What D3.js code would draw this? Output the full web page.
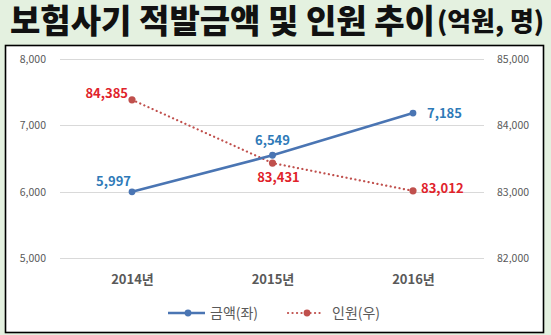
<!DOCTYPE html>
<html><head><meta charset="utf-8">
<script src="https://cdn.jsdelivr.net/npm/d3@7"></script>
<style>
html,body{margin:0;padding:0;background:#e4f1e0;}
svg{display:block;}
</style></head>
<body>
<svg id="c" width="551" height="335"></svg>
<script>
const years = ["2014년", "2015년", "2016년"];
const amount = [5997, 6549, 7185];
const people = [84385, 83431, 83012];
const leftTicks = [5000, 6000, 7000, 8000];
const rightTicks = [82000, 83000, 84000, 85000];
const seriesNames = ["금액(좌)", "인원(우)"];
const titleMain = "보험사기 적발금액 및 인원 추이";
const titleUnit = "(억원, 명)";

const svg = d3.select("#c");
const font = "'Noto Sans CJK KR','Malgun Gothic',sans-serif";

// background
svg.append("rect").attr("width", 551).attr("height", 335).attr("fill", "#e4f1e0");

// title
svg.append("text").attr("x", 10).attr("y", 32.5)
  .attr("font-family", font).attr("font-weight", 900).attr("fill", "#111").attr("font-size", 33)
  .attr("textLength", 425).attr("lengthAdjust", "spacingAndGlyphs").text(titleMain);
svg.append("text").attr("x", 437).attr("y", 31)
  .attr("font-family", font).attr("font-weight", 900).attr("fill", "#111").attr("font-size", 26)
  .attr("textLength", 107).attr("lengthAdjust", "spacingAndGlyphs").text(titleUnit);

// chart box
svg.append("rect").attr("x", 5.5).attr("y", 45.5).attr("width", 538).attr("height", 287)
  .attr("fill", "#fff").attr("stroke", "#000").attr("stroke-width", 1.6);

const x = d3.scalePoint().domain(years).range([132, 413]);
const yL = d3.scaleLinear().domain([5000, 8000]).range([258, 59]);
const yR = d3.scaleLinear().domain([82000, 85000]).range([258, 59]);
const gx0 = 60, gx1 = 484;

// grid
svg.append("g").selectAll("line").data(leftTicks).join("line")
  .attr("x1", gx0).attr("x2", gx1)
  .attr("y1", d => Math.round(yL(d)) + 0.5).attr("y2", d => Math.round(yL(d)) + 0.5)
  .attr("stroke", "#d9d9d9").attr("stroke-width", 1);

// left axis
const axL = d3.axisLeft(yL).tickValues(leftTicks).tickFormat(d3.format(",")).tickSize(0).tickPadding(0);
const gL = svg.append("g").attr("transform", "translate(46,0)").call(axL);
gL.select(".domain").remove();
gL.selectAll("text").attr("font-family", font).attr("font-size", 10.5).attr("fill", "#595959");

// right axis
const axR = d3.axisRight(yR).tickValues(rightTicks).tickFormat(d3.format(",")).tickSize(0).tickPadding(0);
const gR = svg.append("g").attr("transform", "translate(497,0)").call(axR);
gR.select(".domain").remove();
gR.selectAll("text").attr("font-family", font).attr("font-size", 10.5).attr("fill", "#595959");

// x axis labels
const axX = d3.axisBottom(x).tickSize(0).tickPadding(0);
const gX = svg.append("g").attr("transform", "translate(0,275)").call(axX);
gX.select(".domain").remove();
gX.selectAll("text").attr("font-family", font).attr("font-size", 13).attr("font-weight", 700).attr("fill", "#595959");

const blue = "#4a75b3", red = "#c0504d";
const blueTxt = "#2e7ab8", redTxt = "#e0232b";

// red dotted line (people)
const lineR = d3.line().x((d, i) => x(years[i])).y(d => yR(d));
svg.append("path").datum(people).attr("d", lineR).attr("fill", "none")
  .attr("stroke", red).attr("stroke-width", 2.2).attr("stroke-dasharray", "0.1 4.4").attr("stroke-linecap", "round");
svg.append("g").selectAll("circle").data(people).join("circle")
  .attr("cx", (d, i) => x(years[i])).attr("cy", d => yR(d)).attr("r", 3.6).attr("fill", red);

// blue line (amount)
const lineL = d3.line().x((d, i) => x(years[i])).y(d => yL(d));
svg.append("path").datum(amount).attr("d", lineL).attr("fill", "none")
  .attr("stroke", blue).attr("stroke-width", 2.6);
svg.append("g").selectAll("circle").data(amount).join("circle")
  .attr("cx", (d, i) => x(years[i])).attr("cy", d => yL(d)).attr("r", 3.4).attr("fill", blue);

const fmt = d3.format(",");
// labels amount
const labA = [{dx: -1, dy: -6, anchor: "end"}, {dx: 0, dy: -10.5, anchor: "middle"}, {dx: 14, dy: 5, anchor: "start"}];
svg.append("g").selectAll("text").data(amount).join("text")
  .attr("x", (d, i) => x(years[i]) + labA[i].dx).attr("y", (d, i) => yL(d) + labA[i].dy)
  .attr("text-anchor", (d, i) => labA[i].anchor)
  .attr("font-family", font).attr("font-size", 13).attr("font-weight", 700).attr("fill", blueTxt)
  .text(d => fmt(d));
// labels people
const labP = [{dx: -4, dy: -1.5, anchor: "end"}, {dx: 6, dy: 18.5, anchor: "middle"}, {dx: 8, dy: 2, anchor: "start"}];
svg.append("g").selectAll("text").data(people).join("text")
  .attr("x", (d, i) => x(years[i]) + labP[i].dx).attr("y", (d, i) => yR(d) + labP[i].dy)
  .attr("text-anchor", (d, i) => labP[i].anchor)
  .attr("font-family", font).attr("font-size", 13).attr("font-weight", 700).attr("fill", redTxt)
  .text(d => fmt(d));

// legend
const lg = svg.append("g");
lg.append("line").attr("x1", 168).attr("x2", 205).attr("y1", 313).attr("y2", 313).attr("stroke", blue).attr("stroke-width", 2.6);
lg.append("circle").attr("cx", 188).attr("cy", 313).attr("r", 3.4).attr("fill", blue);
lg.append("text").attr("x", 210).attr("y", 318).attr("font-family", font).attr("font-size", 14).attr("fill", "#595959").text(seriesNames[0]);
lg.append("line").attr("x1", 288).attr("x2", 323).attr("y1", 313).attr("y2", 313).attr("stroke", red).attr("stroke-width", 2.2)
  .attr("stroke-dasharray", "0.1 4.4").attr("stroke-linecap", "round");
lg.append("circle").attr("cx", 307).attr("cy", 313).attr("r", 3.4).attr("fill", red);
lg.append("text").attr("x", 332).attr("y", 318).attr("font-family", font).attr("font-size", 14).attr("fill", "#595959").text(seriesNames[1]);
</script>
</body></html>
